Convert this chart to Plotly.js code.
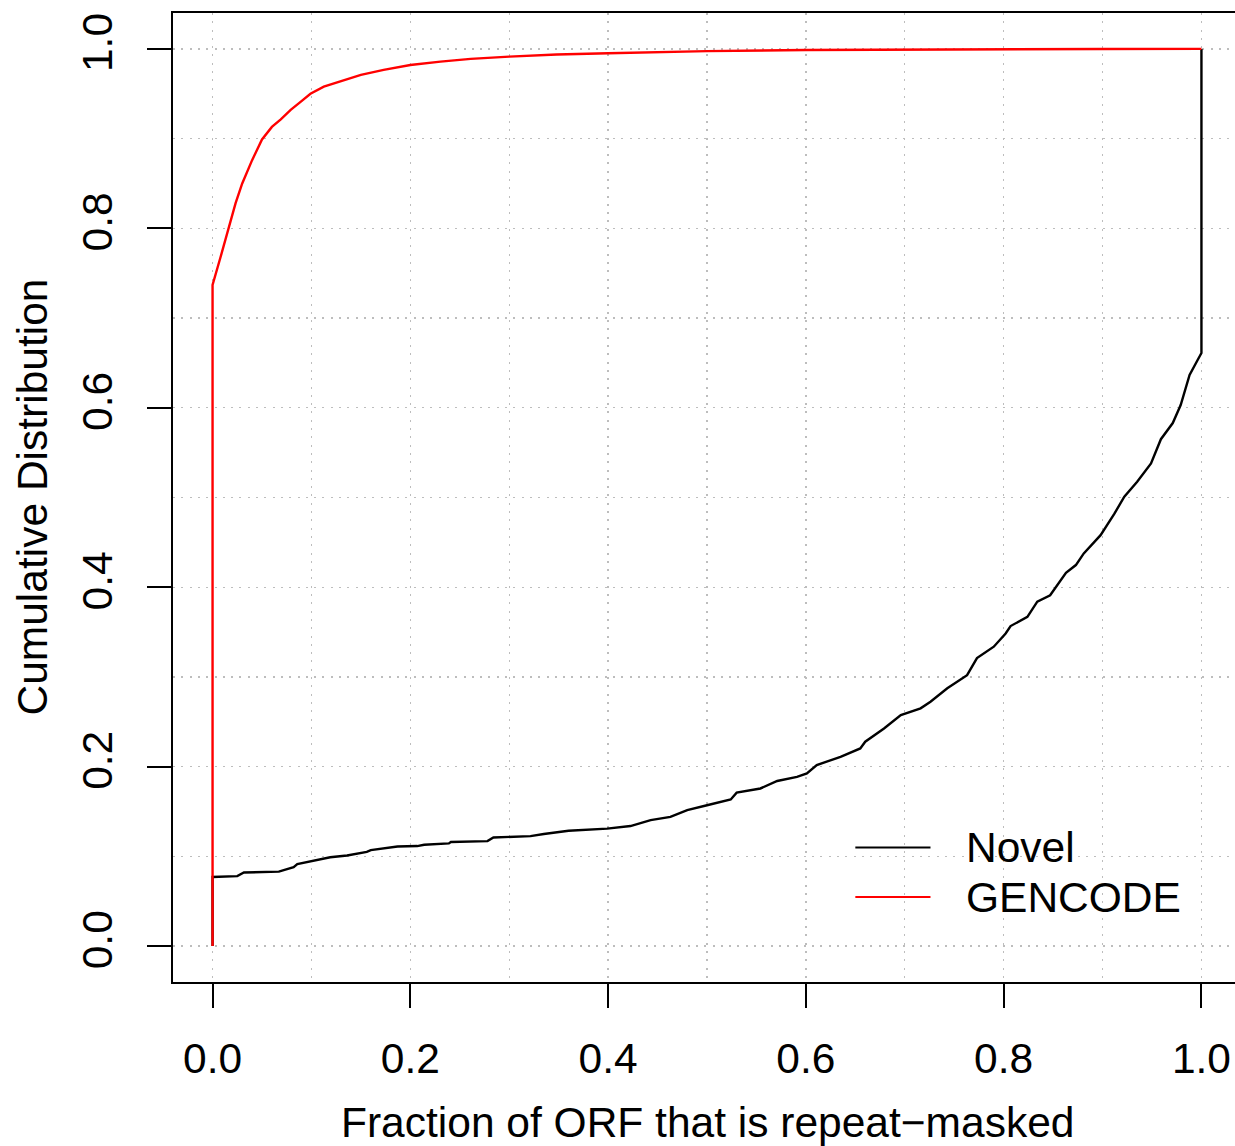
<!DOCTYPE html>
<html>
<head>
<meta charset="utf-8">
<script src="https://cdn.plot.ly/plotly-3.0.1.min.js"></script>
<style>
html,body{margin:0;padding:0;overflow:hidden;background:#fff;}
#chart{width:1245px;height:1146px;}
</style>
</head>
<body>
<div id="chart"></div>
<script>
// GENCODE cumulative distribution (red)
const gencodeX = [0, 0, 0.0081, 0.0165, 0.0233, 0.030, 0.040, 0.050, 0.060, 0.069, 0.079, 0.089, 0.099, 0.1125, 0.128, 0.150, 0.173, 0.200, 0.2305, 0.261, 0.300, 0.348, 0.400, 0.450, 0.500, 0.600, 0.700, 0.800, 0.900, 1.0];
const gencodeY = [0, 0.737, 0.768, 0.800, 0.828, 0.850, 0.876, 0.899, 0.913, 0.9215, 0.932, 0.941, 0.950, 0.958, 0.9635, 0.971, 0.9766, 0.982, 0.9858, 0.9889, 0.9914, 0.9937, 0.9952, 0.9965, 0.9975, 0.9988, 0.9994, 0.9998, 0.9999, 1.0];

// Novel cumulative distribution (black)
const novelX = [0, 0, 0.025, 0.0317, 0.067, 0.082, 0.0857, 0.106, 0.119, 0.136, 0.156, 0.16, 0.187, 0.207, 0.214, 0.239, 0.241, 0.278, 0.284, 0.3215, 0.335, 0.360, 0.399, 0.4226, 0.443, 0.463, 0.480, 0.500, 0.524, 0.530, 0.554, 0.571, 0.591, 0.601, 0.611, 0.635, 0.655, 0.660, 0.679, 0.696, 0.716, 0.726, 0.743, 0.763, 0.773, 0.790, 0.802, 0.807, 0.824, 0.834, 0.847, 0.863, 0.873, 0.881, 0.898, 0.912, 0.922, 0.935, 0.949, 0.959, 0.971, 0.979, 0.988, 0.996, 1.0, 1.0];
const novelY = [0, 0.077, 0.078, 0.082, 0.083, 0.088, 0.0914, 0.096, 0.099, 0.101, 0.105, 0.107, 0.111, 0.1115, 0.113, 0.1145, 0.116, 0.117, 0.121, 0.1226, 0.125, 0.1285, 0.131, 0.1338, 0.1405, 0.144, 0.1516, 0.157, 0.1635, 0.171, 0.1757, 0.184, 0.1887, 0.1924, 0.2018, 0.211, 0.2203, 0.2278, 0.2426, 0.2575, 0.265, 0.2724, 0.2873, 0.302, 0.321, 0.3337, 0.3485, 0.3567, 0.367, 0.384, 0.391, 0.416, 0.4247, 0.4377, 0.458, 0.482, 0.501, 0.5176, 0.538, 0.565, 0.583, 0.603, 0.6366, 0.653, 0.661, 1.0];

const tickVals = [0, 0.2, 0.4, 0.6, 0.8, 1.0];
const tickText = ["0.0", "0.2", "0.4", "0.6", "0.8", "1.0"];
const seriesNames = ["Novel", "GENCODE"];
const seriesColors = ["#000000", "#ff0000"];

const FONT = "Liberation Sans, Arial, Helvetica, sans-serif";
const FS = 42.5;

const traces = [
  {x: novelX, y: novelY, mode: "lines", name: seriesNames[0], line: {color: seriesColors[0], width: 2.4}, showlegend: false, hoverinfo: "skip"},
  {x: gencodeX, y: gencodeY, mode: "lines", name: seriesNames[1], line: {color: seriesColors[1], width: 2.4}, showlegend: false, hoverinfo: "skip"}
];

const GRID = "#bdbdbd";
const DASH = "2px,6.3px";

const axisCommon = {
  range: [-0.04, 1.04],
  tickmode: "array",
  tickvals: tickVals,
  ticktext: tickText,
  ticks: "outside",
  ticklen: 24,
  tickwidth: 2,
  tickcolor: "#000",
  showline: true,
  linecolor: "#000",
  linewidth: 2,
  mirror: true,
  zeroline: false,
  showgrid: true,
  gridcolor: GRID,
  griddash: DASH,
  gridwidth: 1.3,
  minor: {dtick: 0.1, tick0: 0, showgrid: true, gridcolor: GRID, griddash: DASH, gridwidth: 1.3, ticks: ""},
  tickfont: {family: FONT, size: FS, color: "#000"}
};

// legend positions (data coordinates of the plot)
const legY = [0.110, 0.0546];
const shapes = seriesNames.map((n, i) => ({
  type: "line", xref: "x", yref: "y", x0: 0.650, x1: 0.726, y0: legY[i], y1: legY[i],
  line: {color: seriesColors[i], width: 2}
}));
const annotations = seriesNames.map((n, i) => ({
  text: n, xref: "x", yref: "y", x: 0.760, y: legY[i], xanchor: "left", yanchor: "middle",
  showarrow: false, font: {family: FONT, size: FS, color: "#000"}
}));
annotations.push({
  text: "Fraction of ORF that is repeat\u2212masked", xref: "paper", yref: "paper",
  x: 0.5, y: 0, yshift: -140, xanchor: "center", yanchor: "middle", showarrow: false,
  font: {family: FONT, size: FS, color: "#000"}
});
annotations.push({
  text: "Cumulative Distribution", xref: "paper", yref: "paper", textangle: -90,
  x: 0, y: 0.5, xshift: -141, xanchor: "center", yanchor: "middle", showarrow: false,
  font: {family: FONT, size: FS, color: "#000"}
});

const layout = {
  width: 1245,
  height: 1146,
  margin: {l: 173, r: 4, t: 13, b: 164},
  paper_bgcolor: "#fff",
  plot_bgcolor: "#fff",
  showlegend: false,
  xaxis: Object.assign({}, axisCommon, {ticklabelstandoff: 14}),
  yaxis: Object.assign({}, axisCommon, {tickangle: -90, ticklabelstandoff: 18}),
  shapes: shapes,
  annotations: annotations,
  font: {family: FONT}
};

Plotly.newPlot("chart", traces, layout, {displayModeBar: false, staticPlot: true});
</script>
</body>
</html>
